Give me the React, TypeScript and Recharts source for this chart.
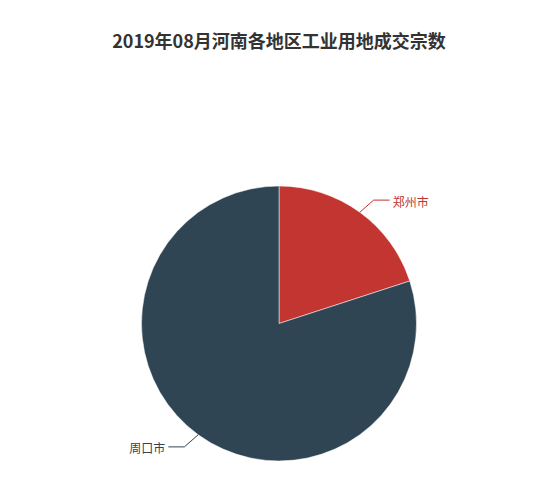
import React from 'react';
import { PieChart, Pie, Cell } from 'recharts';

const titleText = '2019年08月河南各地区工业用地成交宗数';
const regionNames = ['郑州市', '周口市'];
const regionValues = [1, 4];
const sliceColors = ['#c23531', '#2f4554'];

const data = regionNames.map((name, i) => ({ name, value: regionValues[i] }));

const RADIAN = Math.PI / 180;

const renderLabel = (props: any) => {
  const { cx, cy, midAngle, outerRadius, index, name } = props;
  const cos = Math.cos(-midAngle * RADIAN);
  const sin = Math.sin(-midAngle * RADIAN);
  const right = cos >= 0;
  const sgn = right ? 1 : -1;
  const sx = cx + outerRadius * cos;
  const sy = cy + outerRadius * sin;
  const mx = cx + (outerRadius + 15) * cos + sgn * 5;
  const my = cy + (outerRadius + 15) * sin;
  const ex = mx + sgn * 16;
  const ey = my;
  const color = sliceColors[index % sliceColors.length];
  return (
    <g>
      <path d={`M${sx},${sy}L${mx},${my}L${ex},${ey}`} stroke={color} fill="none" strokeWidth={1} />
      <text
        x={ex + sgn * 3}
        y={ey + 1}
        textAnchor={right ? 'start' : 'end'}
        dominantBaseline="central"
        fill={color}
        fontSize={12}
        fontFamily="'Noto Sans CJK SC', sans-serif"
      >
        {name}
      </text>
    </g>
  );
};

export default function App() {
  return (
    <div style={{ position: 'absolute', left: 0, top: 0, width: 550, height: 490, background: '#fff' }}>
      <div
        style={{
          position: 'absolute',
          left: 0,
          top: 27,
          width: 558,
          textAlign: 'center',
          fontFamily: "'Noto Sans CJK SC', sans-serif",
          fontWeight: 'bold',
          fontSize: 18,
          color: '#333',
          lineHeight: '26px',
        }}
      >
        {titleText}
      </div>
      <PieChart
        width={550}
        height={490}
        margin={{ top: 0, right: 0, bottom: 0, left: 0 }}
        style={{ position: 'absolute', left: 0, top: 0 }}
      >
        <Pie
          data={data}
          dataKey="value"
          nameKey="name"
          cx={279}
          cy={323.5}
          outerRadius={137.5}
          startAngle={90}
          endAngle={-270}
          stroke="#fff"
          strokeWidth={0.5}
          label={renderLabel}
          labelLine={false}
          isAnimationActive={false}
        >
          {data.map((d, i) => (
            <Cell key={d.name} fill={sliceColors[i % sliceColors.length]} />
          ))}
        </Pie>
      </PieChart>
    </div>
  );
}
